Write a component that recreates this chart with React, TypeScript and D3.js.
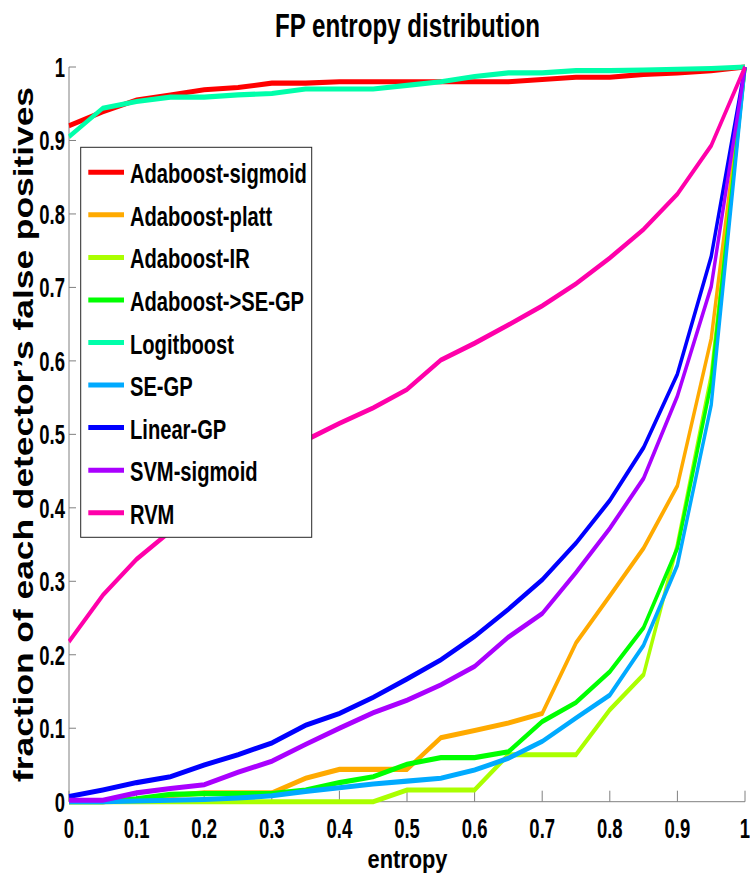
import React from "react";
import * as d3 from "d3";

const entropy = [0, 0.05, 0.1, 0.15, 0.2, 0.25, 0.3, 0.35, 0.4, 0.45, 0.5, 0.55, 0.6, 0.65, 0.7, 0.75, 0.8, 0.85, 0.9, 0.95, 1];

const seriesNames = [
  "Adaboost-sigmoid",
  "Adaboost-platt",
  "Adaboost-IR",
  "Adaboost->SE-GP",
  "Logitboost",
  "SE-GP",
  "Linear-GP",
  "SVM-sigmoid",
  "RVM",
];

const seriesColors = ["#ff0000", "#ffaa00", "#aaff00", "#00ff00", "#00ffaa", "#00aaff", "#0000ff", "#aa00ff", "#ff00aa"];

const adaboostSigmoid = [0.92, 0.939, 0.955, 0.962, 0.969, 0.972, 0.978, 0.978, 0.98, 0.98, 0.98, 0.98, 0.98, 0.98, 0.983, 0.986, 0.986, 0.99, 0.992, 0.995, 1];
const adaboostPlatt = [0, 0, 0.003, 0.008, 0.012, 0.012, 0.012, 0.032, 0.044, 0.044, 0.044, 0.087, 0.097, 0.107, 0.12, 0.216, 0.28, 0.345, 0.43, 0.63, 1];
const adaboostIR = [0, 0, 0, 0, 0, 0, 0, 0, 0, 0, 0.016, 0.016, 0.016, 0.064, 0.064, 0.064, 0.125, 0.173, 0.35, 0.58, 1];
const adaboostSEGP = [0, 0, 0.004, 0.01, 0.011, 0.011, 0.011, 0.016, 0.026, 0.034, 0.051, 0.06, 0.06, 0.068, 0.109, 0.135, 0.177, 0.237, 0.345, 0.57, 1];
const logitboost = [0.905, 0.944, 0.953, 0.959, 0.959, 0.962, 0.964, 0.97, 0.97, 0.97, 0.975, 0.98, 0.987, 0.992, 0.992, 0.995, 0.995, 0.996, 0.997, 0.998, 1];
const seGP = [0, 0, 0.001, 0.002, 0.003, 0.005, 0.008, 0.014, 0.019, 0.024, 0.028, 0.032, 0.043, 0.059, 0.082, 0.114, 0.145, 0.213, 0.322, 0.54, 1];
const linearGP = [0.007, 0.016, 0.026, 0.034, 0.05, 0.064, 0.08, 0.104, 0.12, 0.142, 0.167, 0.193, 0.225, 0.262, 0.302, 0.352, 0.41, 0.482, 0.582, 0.742, 1];
const svmSigmoid = [0.002, 0.002, 0.012, 0.018, 0.023, 0.04, 0.055, 0.078, 0.1, 0.121, 0.138, 0.159, 0.184, 0.224, 0.256, 0.312, 0.372, 0.44, 0.552, 0.701, 1];
const rvm = [0.218, 0.281, 0.33, 0.368, 0.4, 0.43, 0.462, 0.492, 0.515, 0.536, 0.561, 0.601, 0.624, 0.649, 0.675, 0.705, 0.74, 0.779, 0.827, 0.893, 1];

const seriesValues = [adaboostSigmoid, adaboostPlatt, adaboostIR, adaboostSEGP, logitboost, seGP, linearGP, svmSigmoid, rvm];

const xTicks = [0, 0.1, 0.2, 0.3, 0.4, 0.5, 0.6, 0.7, 0.8, 0.9, 1];
const xTickLabels = ["0", "0.1", "0.2", "0.3", "0.4", "0.5", "0.6", "0.7", "0.8", "0.9", "1"];
const yTicks = [0, 0.1, 0.2, 0.3, 0.4, 0.5, 0.6, 0.7, 0.8, 0.9, 1];
const yTickLabels = ["0", "0.1", "0.2", "0.3", "0.4", "0.5", "0.6", "0.7", "0.8", "0.9", "1"];

const FONT = "'Liberation Sans', Arial, Helvetica, sans-serif";

export default function App() {
  const W = 750;
  const H = 879;
  const left = 69;
  const right = 745;
  const top = 67;
  const bottom = 801.7;
  const K = 1.5; // vertical stretch of the original figure

  const x = d3.scaleLinear().domain([0, 1]).range([left, right]);
  const y = d3.scaleLinear().domain([0, 1]).range([bottom, top]);
  const yK = d3.scaleLinear().domain([0, 1]).range([bottom / K, top / K]);

  const line = d3
    .line<number>()
    .x((_, i) => x(entropy[i]))
    .y((d) => yK(d));

  const axisColor = "#808080";
  const legX = 80.7;
  const legY = 147.3;
  const legW = 231;
  const legH = 390;
  const rowY0 = 172.3;
  const rowStep = 42.55;

  return (
    <svg
      width={W}
      height={H}
      viewBox={`0 0 ${W} ${H}`}
      style={{ position: "absolute", left: 0, top: 0, background: "#fff" }}
      fontFamily={FONT}
      fontWeight="bold"
    >
      <rect x={0} y={0} width={W} height={H} fill="#fff" />

      {/* title */}
      <text x={407.5} y={36.7} fontSize={32.5} textAnchor="middle" textLength={265} lengthAdjust="spacingAndGlyphs" fill="#000">
        FP entropy distribution
      </text>

      {/* axes */}
      <line x1={left} y1={top} x2={left} y2={bottom} stroke={axisColor} strokeWidth={1} />
      <line x1={left} y1={bottom} x2={right} y2={bottom} stroke={axisColor} strokeWidth={1} />
      {xTicks.map((t) => (
        <line key={"xt" + t} x1={x(t)} x2={x(t)} y1={bottom} y2={bottom - 11} stroke={axisColor} strokeWidth={1} />
      ))}
      {yTicks.map((t) => (
        <line key={"yt" + t} x1={left} x2={left + 7} y1={y(t)} y2={y(t)} stroke={axisColor} strokeWidth={1} />
      ))}

      {/* series */}
      <g transform={`scale(1,${K})`}>
        {seriesValues.map((vals, i) => (
          <path
            key={seriesNames[i]}
            d={line(vals) || ""}
            fill="none"
            stroke={seriesColors[i]}
            strokeWidth={3.4}
            strokeLinejoin="miter"
            strokeLinecap="butt"
          />
        ))}
      </g>

      {/* tick labels */}
      {xTicks.map((t, i) => (
        <text
          key={"xl" + t}
          transform={`translate(${x(t)},${bottom + 36.3}) scale(0.66,1)`}
          fontSize={28}
          textAnchor="middle"
          fill="#000"
        >
          {xTickLabels[i]}
        </text>
      ))}
      {yTicks.map((t, i) => (
        <text
          key={"yl" + t}
          transform={`translate(65,${y(t) + 10}) scale(0.66,1)`}
          fontSize={28}
          textAnchor="end"
          fill="#000"
        >
          {yTickLabels[i]}
        </text>
      ))}

      {/* axis labels */}
      <text x={407.5} y={867.5} fontSize={26} textAnchor="middle" textLength={80} lengthAdjust="spacingAndGlyphs" fill="#000">
        entropy
      </text>
      <text
        transform={`translate(33,434.5) rotate(-90)`}
        fontSize={27}
        textAnchor="middle"
        textLength={695}
        lengthAdjust="spacingAndGlyphs"
        fill="#000"
      >
        fraction of each detector’s false positives
      </text>

      {/* legend */}
      <rect x={legX} y={legY} width={legW} height={legH} fill="#fff" stroke="#262626" strokeWidth={1} />
      {seriesNames.map((name, i) => {
        const ry = rowY0 + i * rowStep;
        return (
          <g key={"leg" + name}>
            <line x1={88.3} x2={124} y1={ry} y2={ry} stroke={seriesColors[i]} strokeWidth={5} />
            <text transform={`translate(130,${ry + 11}) scale(0.72,1)`} fontSize={28} fill="#000">
              {name}
            </text>
          </g>
        );
      })}
    </svg>
  );
}
